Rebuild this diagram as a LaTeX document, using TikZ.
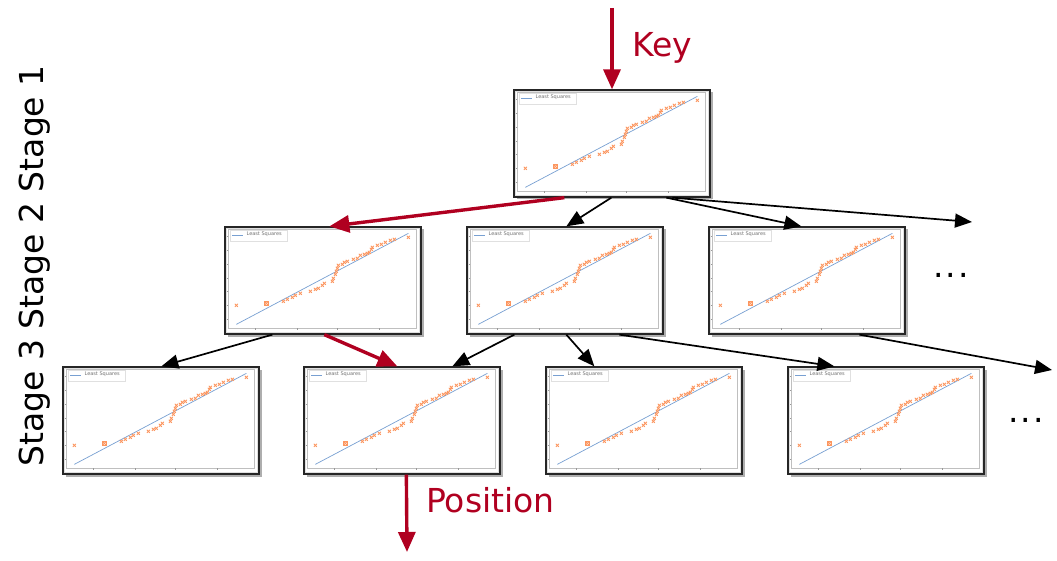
\documentclass[tikz,border=0pt]{standalone}
\usepackage{fontspec}
\setmainfont{DejaVu Sans}
\usetikzlibrary{arrows.meta,shadows,calc}
\definecolor{keyred}{RGB}{176,0,32}
\definecolor{fitblue}{RGB}{120,160,210}
\definecolor{ptorange}{RGB}{252,150,95}
\tikzset{
  plotbox/.style={draw=black!85, line width=1.3pt, fill=white, minimum width=196pt, minimum height=107pt, inner sep=0pt,
    drop shadow={shadow xshift=2.5pt, shadow yshift=-2.5pt, opacity=0.45, fill=black!70}},
  blk/.style={-{Triangle[length=17pt,width=14pt]}, line width=1.7pt, black},
  redarr/.style={-{Triangle[length=20pt,width=17pt]}, line width=3.4pt, keyred},
  bigtext/.style={inner sep=0pt, font=\fontsize{33}{38}\selectfont},
  mk/.style={ptorange, line width=0.8pt},
  plot/.pic={
    \draw[black!12, line width=0.6pt] (1.5,1.5) rectangle (194.5,105.5);
    \draw[black!25, line width=0.5pt] (4,3) rectangle (192,102);
    \foreach \ty in {10,24,38,52,65,79,93} \draw[black!40, line width=0.4pt] (4,\ty) -- (2.5,\ty);
    \foreach \tx in {31,73,113,155} \draw[black!40, line width=0.4pt] (\tx,102) -- (\tx,103.5);
    \draw[black!12, line width=0.4pt, fill=white] (6,4) rectangle (63,15);
    \draw[fitblue, line width=0.6pt] (8,8.5) -- (19,8.5);
    \node[anchor=west, inner sep=0pt, text=black!55, font=\fontsize{5}{6}\selectfont] at (22,8.3) {Least Squares};
    \draw[fitblue, line width=0.7pt] (12,98) -- (184,7);
    \foreach \p in {(12,79),(59,75),(63,73),(68,71),(71,69),(76,67),(86,65),(91,63),(94,62),(98,59),(100,57),
      (108,55),(109,52),(111,48),(112,45),(113,42),(114,39),(118,38),(120,36),(123,35),(129,33),(133,32),
      (136,29),(140,28),(143,27),(145,26),(147,23),(148,21),(153,19),(157,18),(161,16),(166,14),(170,13),(184,11)}
      \draw[mk] \p +(-1.5,-1.5) -- +(1.5,1.5) +(-1.5,1.5) -- +(1.5,-1.5);
    \draw[mk] (42,77) +(-1.5,-1.5) -- +(1.5,1.5) +(-1.5,1.5) -- +(1.5,-1.5);
    \draw[mk, line width=0.9pt] (40,75) rectangle (44,79);
  }
}
\begin{document}
\begin{tikzpicture}[x=1pt,y=-1pt]
\useasboundingbox (0,0) rectangle (1057,561);
% boxes
\node[plotbox] (t)  at (612,143.5) {};
\node[plotbox] (m1) at (323,280.5) {};
\node[plotbox] (m2) at (565,280.5) {};
\node[plotbox] (m3) at (807,280.5) {};
\node[plotbox] (b1) at (161,420.5) {};
\node[plotbox] (b2) at (402,420.5) {};
\node[plotbox] (b3) at (644,420.5) {};
\node[plotbox] (b4) at (886,420.5) {};
\foreach \n in {t,m1,m2,m3,b1,b2,b3,b4} \pic at (\n.north west) {plot};
% free ends
\coordinate (keystart) at (612,8);
\coordinate (posend) at (407,552);
\coordinate (m-more) at (972,222);
\coordinate (b-more) at (1052,370);
% labels
\node[bigtext, text=keyred, anchor=base west] (key) at (632,57) {Key};
\node[bigtext, text=keyred, anchor=base west] (pos) at (426,512) {Position};
\node[bigtext, rotate=90, anchor=base] (stg) at (43,266) {Stage 3 Stage 2 Stage 1};
\node[bigtext, anchor=base] (dots1) at (951,278) {.\kern2pt.\kern2pt.};
\node[bigtext, anchor=base] (dots2) at (1026,422) {.\kern2pt.\kern2pt.};
% arrows
\draw[redarr] (keystart) -- (t.north);
\draw[blk] ([xshift=98pt]t.south west) -- ([xshift=100pt]m2.north west);
\draw[blk] ([xshift=153pt]t.south west) -- ([xshift=93pt]m3.north west);
\draw[blk] ([xshift=159pt]t.south west) -- (m-more);
\draw[redarr] ([xshift=51pt]t.south west) -- ([xshift=105pt]m1.north west);
\draw[blk] ([xshift=48pt]m1.south west) -- ([xshift=99pt]b1.north west);
\draw[redarr] ([xshift=100pt]m1.south west) -- ([xshift=94pt]b2.north west);
\draw[blk] ([xshift=48pt]m2.south west) -- ([xshift=149pt]b2.north west);
\draw[blk] ([xshift=100pt]m2.south west) -- ([xshift=49pt]b3.north west);
\draw[blk] ([xshift=153pt]m2.south west) -- ([xshift=47pt]b4.north west);
\draw[blk] ([xshift=151pt]m3.south west) -- (b-more);
\draw[redarr] ([xshift=103pt]b2.south west) -- (posend);
\end{tikzpicture}
\end{document}
